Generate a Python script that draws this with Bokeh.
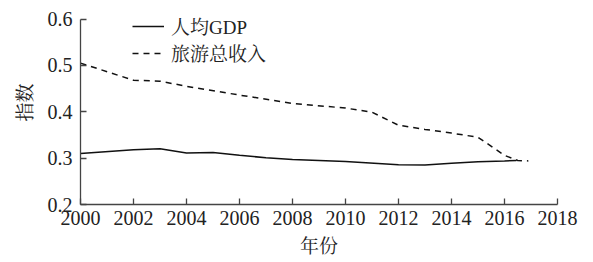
from bokeh.plotting import figure
from bokeh.models import Legend, LegendItem, FixedTicker, ColumnDataSource
from bokeh.embed import file_html
from bokeh.resources import INLINE

# Data
gdp_years = [2000, 2002, 2003, 2004, 2005, 2006, 2007, 2008, 2010, 2012, 2013, 2014, 2015, 2016, 2016.45]
gdp_index = [0.310, 0.318, 0.320, 0.311, 0.312, 0.306, 0.301, 0.297, 0.293, 0.286, 0.285, 0.289, 0.292, 0.294, 0.295]

tour_years = [2000, 2002, 2003, 2004, 2006, 2008, 2010, 2011, 2012, 2013, 2014, 2015, 2016, 2016.5, 2016.9]
tour_index = [0.505, 0.468, 0.466, 0.455, 0.436, 0.418, 0.408, 0.399, 0.371, 0.362, 0.354, 0.345, 0.306, 0.295, 0.294]

x_ticks = [2000, 2002, 2004, 2006, 2008, 2010, 2012, 2014, 2016, 2018]
y_ticks = [0.2, 0.3, 0.4, 0.5, 0.6]

series_names = ["人均GDP", "旅游总收入"]
x_title = "年份"
y_title = "指数"

FONT = "Liberation Serif, Noto Serif CJK SC, Noto Sans CJK SC"

p = figure(frame_width=477, frame_height=204, output_backend="svg", toolbar_location=None,
           x_range=(2000, 2018), y_range=(0.2, 0.64),
           min_border_left=80, min_border_right=24, min_border_top=0, min_border_bottom=50)
p.outline_line_color = None
p.grid.visible = False
p.background_fill_color = "white"

src_g = ColumnDataSource(dict(x=gdp_years, y=gdp_index))
src_t = ColumnDataSource(dict(x=tour_years, y=tour_index))
r1 = p.line("x", "y", source=src_g, line_color="#111111", line_width=1.5)
r2 = p.line("x", "y", source=src_t, line_color="#111111", line_width=1.5, line_dash="6 5")

for ax in (p.xaxis[0], p.yaxis[0]):
    ax.axis_line_color = "#444444"
    ax.axis_line_width = 1.3
    ax.major_tick_line_color = "#444444"
    ax.major_tick_line_width = 1.3
    ax.major_tick_in = 6
    ax.major_tick_out = 0
    ax.minor_tick_line_color = None
    ax.major_label_text_font = FONT
    ax.major_label_text_font_size = "20px"
    ax.major_label_text_color = "#222222"
    ax.axis_label_text_font = FONT
    ax.axis_label_text_font_size = "19px"
    ax.axis_label_text_font_style = "normal"
    ax.axis_label_text_color = "#222222"

p.xaxis.ticker = FixedTicker(ticks=x_ticks)
p.yaxis.ticker = FixedTicker(ticks=y_ticks)
p.yaxis.bounds = (0.2, 0.6)
p.xaxis.major_label_standoff = 6
p.yaxis.major_label_standoff = 8
p.xaxis.axis_label = x_title
p.yaxis.axis_label = y_title
p.xaxis.axis_label_standoff = 8
p.yaxis.axis_label_standoff = 9

legend = Legend(items=[LegendItem(label=series_names[0], renderers=[r1]),
                       LegendItem(label=series_names[1], renderers=[r2])],
                location=(52, 138), orientation="vertical")
legend.border_line_color = None
legend.background_fill_alpha = 0
legend.padding = 0
legend.margin = 0
legend.spacing = -3
legend.glyph_width = 32
legend.glyph_height = 20
legend.label_height = 20
legend.label_standoff = 7
legend.label_text_font = FONT
legend.label_text_font_size = "19px"
legend.label_text_color = "#222222"
p.add_layout(legend, "center")

open("out.html", "w").write(file_html(p, INLINE))
